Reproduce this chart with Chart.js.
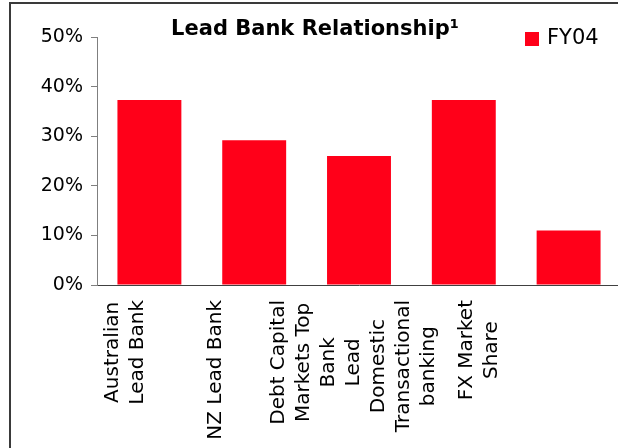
<!DOCTYPE html>
<html>
<head>
<meta charset="utf-8">
<script src="https://cdn.jsdelivr.net/npm/chart.js@4"></script>
<style>
html, body { margin: 0; padding: 0; background: #fff; overflow: hidden; width: 618px; height: 448px; }
#frame { position: absolute; left: 9px; top: 2px; width: 700px; height: 600px; border-left: 2px solid #3a3a3a; border-top: 2px solid #3a3a3a; }
#chart { position: absolute; left: 0; top: 0; }
</style>
</head>
<body>
<div id="frame"></div>
<canvas id="chart" width="622" height="448"></canvas>
<script>
const categories = [
    ["Australian", "Lead Bank"],
    ["NZ Lead Bank"],
    ["Debt Capital", "Markets Top", "Bank", "Lead"],
    ["Domestic", "Transactional", "banking"],
    ["FX Market", "Share"]
];
const fy04 = [37.3, 29.2, 26.0, 37.3, 11.0];
const yTicks = [0, 10, 20, 30, 40, 50];
const seriesName = "FY04";
const chartTitle = "Lead Bank Relationship\u00b9";

// the original's category labels sit left of their bars, by this much
const labelShift = [-24, -38, -43, -60, -89];
const RED = "#ff0019";
const FONT = "'DejaVu Sans', sans-serif";

//title, legend and the rotated multi-line category labels
const extras = {
    id: "extras",
    afterDraw(chart) {
        const ctx = chart.ctx;
        const xs = chart.scales.x;
        ctx.save();
        ctx.fillStyle = "#000";
        ctx.font = "bold 21px " + FONT;
        ctx.textAlign = "center";
        ctx.textBaseline = "middle";
        ctx.fillText(chartTitle, 315, 30);

        const ds = chart.data.datasets[0];
        ctx.fillStyle = ds.backgroundColor;
        ctx.fillRect(525, 32, 14, 14);
        ctx.fillStyle = "#000";
        ctx.font = "21px " + FONT;
        ctx.textAlign = "left";
        ctx.fillText(ds.label, 547, 39);

        ctx.font = "20px " + FONT;
        ctx.textAlign = "center";
        const top = xs.top + 15;
        chart.data.labels.forEach((lines, i) => {
            const w = Math.max(...lines.map(s => ctx.measureText(s).width));
            const cx = xs.getPixelForTick(i) + labelShift[i];
            ctx.save();
            ctx.translate(cx, top + w / 2);
            ctx.rotate(-Math.PI / 2);
            lines.forEach((s, j) => ctx.fillText(s, 0, (j - (lines.length - 1) / 2) * 25));
            ctx.restore();
        });
        ctx.restore();
    }
};

new Chart(document.getElementById("chart"), {
    type: "bar",
    data: {
        labels: categories,
        datasets: [{
            label: seriesName,
            data: fy04,
            backgroundColor: RED,
            borderWidth: 0,
            barPercentage: 0.61,
            categoryPercentage: 1.0
        }]
    },
    options: {
        responsive: false,
        animation: false,
        layout: { padding: { top: 37, right: 1, left: 0, bottom: 0 } },
        plugins: {
            legend: { display: false },
            title: { display: false },
            tooltip: { enabled: false }
        },
        scales: {
            x: {
                afterFit: s => { s.height = 163; },
                ticks: { display: false },
                grid: { display: false },
                border: { color: "#404040", width: 1 }
            },
            y: {
                min: 0,
                max: 50,
                afterBuildTicks: s => { s.ticks = yTicks.map(v => ({ value: v })); },
                afterFit: s => { s.width = 97; },
                ticks: {
                    callback: v => v + "%",
                    color: "#000",
                    font: { family: FONT, size: 19 },
                    padding: 8
                },
                grid: { drawOnChartArea: false, tickLength: 6, color: "#7f7f7f" },
                border: { color: "#7f7f7f", width: 1 }
            }
        }
    },
    plugins: [extras]
});
</script>
</body>
</html>
